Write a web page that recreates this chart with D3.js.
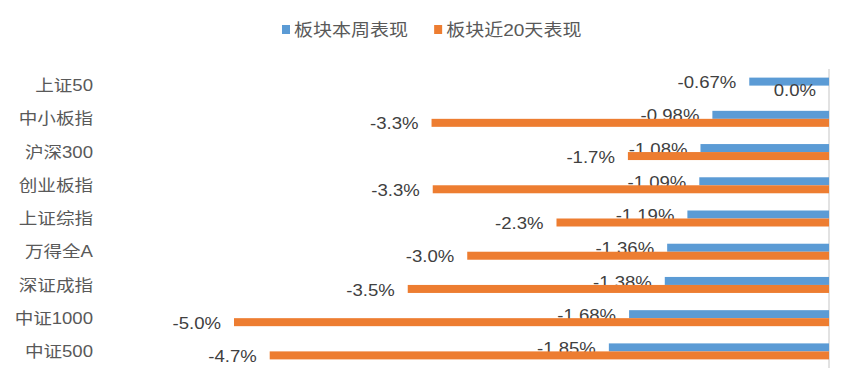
<!DOCTYPE html>
<html><head><meta charset="utf-8">
<script src="https://cdn.jsdelivr.net/npm/d3@7"></script>
<style>
body{margin:0;background:#fff;}
text{font-family:"Liberation Sans","Noto Sans CJK SC",Arial,sans-serif;}
</style></head>
<body><svg id="c" width="853" height="389"></svg>
<script>
const categories = ["上证50","中小板指","沪深300","创业板指","上证综指","万得全A","深证成指","中证1000","中证500"];
const seriesNames = ["板块本周表现","板块近20天表现"];
const weekValues = [-0.67,-0.98,-1.08,-1.09,-1.19,-1.36,-1.38,-1.68,-1.85];
const day20Values = [0.0,-3.34,-1.69,-3.33,-2.29,-3.04,-3.54,-5.0,-4.70];
const colors = ["#5B9BD5","#ED7D31"];

const svg = d3.select("#c");
const x = d3.scaleLinear().domain([-6,0]).range([115,829]);
const y = d3.scaleBand().domain(categories).range([69,368]);
const barH = 8;
const sx = 1.16;

svg.append("line").attr("x1",x(0)).attr("x2",x(0)).attr("y1",69).attr("y2",368)
  .attr("stroke","#D9D9D9").attr("stroke-width",1.5);

const series = [weekValues, day20Values];
series.forEach((vals,si)=>{
  const g = svg.append("g");
  g.selectAll("rect").data(categories).join("rect")
    .attr("x",(d,i)=>x(Math.min(0,vals[i])))
    .attr("width",(d,i)=>Math.abs(x(vals[i])-x(0)))
    .attr("y",d=>y(d)+y.bandwidth()/2 - (si===0?barH:0))
    .attr("height",barH)
    .attr("fill",colors[si]);
  const fmt = si===0 ? (v=>v.toFixed(2)+"%") : (v=>v.toFixed(1)+"%");
  g.selectAll("text").data(categories).join("text")
    .attr("transform",(d,i)=>`translate(${x(Math.min(0,vals[i]))-13},${y(d)+y.bandwidth()/2 + (si===0?-3:5)}) scale(${sx},1)`)
    .attr("dy","0.35em")
    .attr("text-anchor","end")
    .attr("font-size",16)
    .attr("fill","#404040")
    .text((d,i)=>fmt(vals[i]));
});

const yAxis = d3.axisLeft(y).tickSize(0).tickPadding(0);
const ga = svg.append("g").attr("transform","translate(93,0)").call(yAxis);
ga.select(".domain").remove();
ga.selectAll("text").attr("font-size",16).attr("fill","#595959")
  .attr("font-family",'"Liberation Sans","Noto Sans CJK SC",sans-serif').attr("dy","0.35em")
  .attr("transform",`scale(${sx},1)`);

const lg = svg.append("g");
let lx = 282;
seriesNames.forEach((n,i)=>{
  lg.append("rect").attr("x",lx).attr("y",25).attr("width",8).attr("height",9).attr("fill",colors[i]);
  const t = lg.append("text").attr("transform",`translate(${lx+12},30) scale(1.12,1)`).attr("dy","0.35em")
    .attr("font-size",17).attr("fill","#595959").text(n);
  lx += 12 + t.node().getComputedTextLength()*1.12 + 26;
});
</script></body></html>
